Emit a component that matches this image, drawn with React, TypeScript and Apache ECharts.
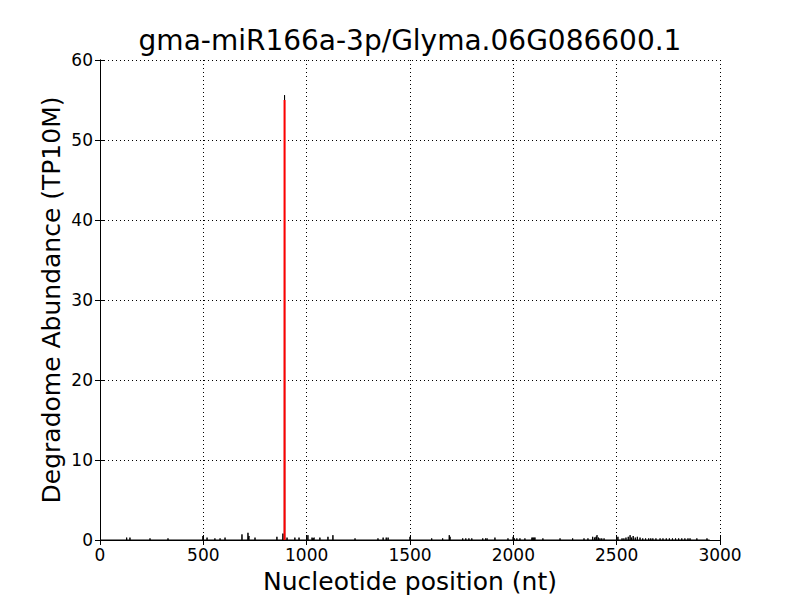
import React, { useEffect, useRef } from "react";
import * as echarts from "echarts";

const titleText = "gma-miR166a-3p/Glyma.06G086600.1";
const xTicks = [0, 500, 1000, 1500, 2000, 2500, 3000];
const yTicks = [0, 10, 20, 30, 40, 50, 60];
const transcriptLength = 2950;
const spikePositions = [
  129, 145, 242, 329, 498, 518, 556, 581, 605, 687, 716, 721, 750, 856, 885, 893, 905, 943, 963,
  1006, 1026, 1031, 1036, 1064, 1103, 1127, 1234, 1345, 1370, 1385, 1394, 1500, 1605, 1658, 1690,
  1694, 1755, 1770, 1785, 1799, 1852, 1866, 1873, 1911, 1974, 1999, 2005, 2017, 2032, 2056, 2090,
  2095, 2100, 2105, 2143, 2226, 2287, 2342, 2361, 2384, 2393, 2400, 2405, 2412, 2419, 2428, 2439,
  2506, 2526, 2535, 2545, 2556, 2565, 2572, 2580, 2590, 2600, 2613, 2626, 2640, 2655, 2665, 2675,
  2690, 2710, 2724, 2740, 2755, 2770, 2785, 2800, 2815, 2830, 2845, 2855, 2888, 2937,
];
const spikeValues = [
  0.3, 0.3, 0.2, 0.2, 0.5, 0.3, 0.2, 0.2, 0.3, 0.7, 0.9, 0.5, 0.3, 0.4, 0.8, 55.6, 0.3, 0.3, 0.3,
  0.6, 0.3, 0.2, 0.3, 0.3, 0.4, 0.6, 0.2, 0.2, 0.3, 0.3, 0.3, 0.4, 0.2, 0.2, 0.6,
  0.4, 0.2, 0.2, 0.2, 0.2, 0.2, 0.2, 0.2, 0.3, 0.2, 0.4, 0.2, 0.2, 0.2, 0.2, 0.3,
  0.3, 0.3, 0.3, 0.2, 0.2, 0.2, 0.2, 0.2, 0.4, 0.3, 0.4, 0.6, 0.3, 0.2, 0.2, 0.2,
  0.4, 0.2, 0.2, 0.3, 0.4, 0.6, 0.3, 0.5, 0.3, 0.4, 0.3, 0.2, 0.2, 0.2, 0.2, 0.2,
  0.2, 0.2, 0.2, 0.2, 0.2, 0.2, 0.2, 0.2, 0.2, 0.2, 0.2, 0.2, 0.2, 0.2,
];
const cleavagePosition = 893;
const cleavageValue = 55;

const FONT = "DejaVu Sans";

export default function App() {
  const ref = useRef<HTMLDivElement>(null);
  useEffect(() => {
    if (!ref.current) return;
    const chart = echarts.init(ref.current, null, { renderer: "svg" });
    const lineData: number[][] = [[1, 0]];
    spikePositions.forEach((p, i) => {
      lineData.push([p - 1, 0], [p, spikeValues[i]], [p + 1, 0]);
    });
    lineData.push([transcriptLength, 0]);

    const axisLine = { show: true, lineStyle: { color: "#000", width: 1 } };
    const tick = { show: true, inside: true, length: 5, lineStyle: { color: "#000", width: 1 } };
    const split = { show: true, lineStyle: { color: "#000", type: [1, 3], width: 1 } };
    const xMin = xTicks[0], xMax = xTicks[xTicks.length - 1];
    const yMin = yTicks[0], yMax = yTicks[yTicks.length - 1];
    const xInt = xTicks[1] - xTicks[0];
    const yInt = yTicks[1] - yTicks[0];
    const plain = (v: number) => String(v);

    chart.setOption({
      animation: false,
      backgroundColor: "#fff",
      title: {
        text: titleText,
        left: 410,
        top: 26,
        padding: 0,
        textAlign: "center",
        textStyle: { fontFamily: FONT, fontSize: 28, fontWeight: "normal", color: "#000" },
      },
      grid: { left: 100, right: 80, top: 60, bottom: 60, containLabel: false },
      xAxis: [
        {
          type: "value",
          min: xMin,
          max: xMax,
          interval: xInt,
          position: "bottom",
          name: "Nucleotide position (nt)",
          nameLocation: "middle",
          nameGap: 29,
          nameMoveOverlap: false,
          nameTextStyle: { fontFamily: FONT, fontSize: 25, color: "#000" },
          axisLine,
          axisTick: tick,
          axisLabel: { fontFamily: FONT, fontSize: 17, color: "#000", margin: 6, formatter: plain },
          splitLine: split,
        },
        {
          type: "value",
          min: xMin,
          max: xMax,
          interval: xInt,
          position: "top",
          axisLine,
          axisTick: tick,
          axisLabel: { show: false },
          splitLine: { show: false },
        },
      ],
      yAxis: [
        {
          type: "value",
          min: yMin,
          max: yMax,
          interval: yInt,
          position: "left",
          name: "Degradome Abundance (TP10M)",
          nameLocation: "middle",
          nameGap: 36,
          nameMoveOverlap: false,
          nameTextStyle: { fontFamily: FONT, fontSize: 25, color: "#000" },
          axisLine,
          axisTick: tick,
          axisLabel: { fontFamily: FONT, fontSize: 17, color: "#000", margin: 7, formatter: plain },
          splitLine: split,
        },
        {
          type: "value",
          min: yMin,
          max: yMax,
          interval: yInt,
          position: "right",
          axisLine,
          axisTick: tick,
          axisLabel: { show: false },
          splitLine: { show: false },
        },
      ],
      series: [
        {
          type: "line",
          data: lineData,
          showSymbol: false,
          symbol: "none",
          lineStyle: { color: "#000", width: 1 },
          z: 3,
        },
        {
          type: "line",
          data: [
            [cleavagePosition, 0],
            [cleavagePosition, cleavageValue],
          ],
          showSymbol: false,
          symbol: "none",
          lineStyle: { color: "#ff0000", width: 2 },
          z: 4,
        },
      ],
    });
    return () => chart.dispose();
  }, []);
  return (
    <div
      ref={ref}
      style={{ position: "fixed", left: 0, top: 0, width: 800, height: 600, background: "#fff" }}
    />
  );
}
